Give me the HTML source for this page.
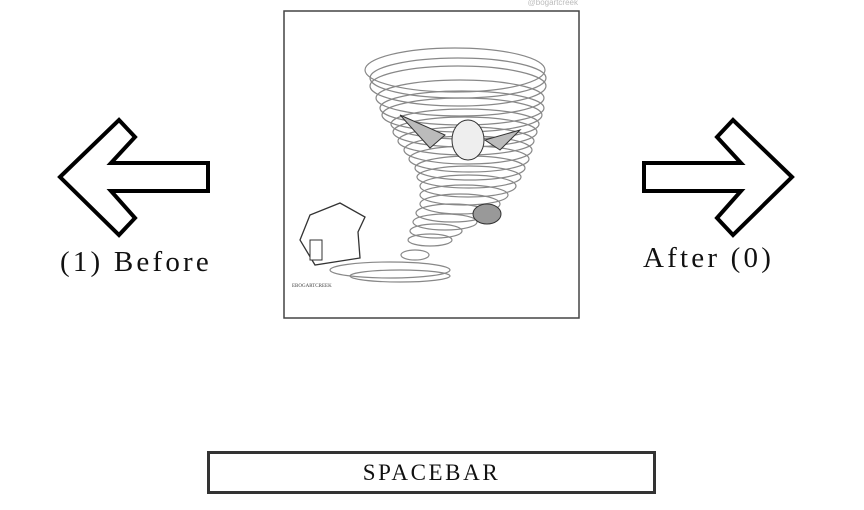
<!DOCTYPE html>
<html><head><meta charset="utf-8"><style>
body{margin:0;width:864px;height:510px;background:#fff;overflow:hidden;position:relative;font-family:"Liberation Serif",serif;}
.lbl{position:absolute;font-size:29px;letter-spacing:3.2px;color:#111;white-space:nowrap;}
</style></head><body>
<svg width="864" height="510" style="position:absolute;left:0;top:0">
<polygon points="60,177 119,120 135,137 111,163 208,163 208,191 111,191 135,218 119,235" fill="#fff" stroke="#000" stroke-width="4" stroke-linejoin="miter"/>
<polygon points="792,177 733,120 717,137 741,163 644,163 644,191 741,191 717,218 733,235" fill="#fff" stroke="#000" stroke-width="4"/>
<g>
<rect x="284" y="11" width="295" height="307" fill="#fff" stroke="#444" stroke-width="1.5"/>
<text x="578" y="5" font-size="8" fill="#bbb" text-anchor="end" font-family="Liberation Sans,sans-serif">@bogartcreek</text>
<g fill="none" stroke="#888" stroke-width="1.2">
<ellipse cx="455" cy="70" rx="90" ry="22"/><ellipse cx="458" cy="78" rx="88" ry="20"/><ellipse cx="458" cy="86" rx="88" ry="20"/>
<ellipse cx="460" cy="98" rx="84" ry="18"/><ellipse cx="462" cy="108" rx="82" ry="17"/><ellipse cx="462" cy="115" rx="80" ry="17"/>
<ellipse cx="465" cy="124" rx="74" ry="15"/><ellipse cx="465" cy="132" rx="72" ry="15"/><ellipse cx="466" cy="141" rx="68" ry="14"/>
<ellipse cx="468" cy="150" rx="64" ry="14"/><ellipse cx="469" cy="159" rx="60" ry="13"/>
<ellipse cx="470" cy="168" rx="55" ry="12"/><ellipse cx="469" cy="177" rx="52" ry="11"/><ellipse cx="468" cy="186" rx="48" ry="11"/>
<ellipse cx="464" cy="195" rx="44" ry="10"/><ellipse cx="460" cy="204" rx="40" ry="10"/><ellipse cx="452" cy="213" rx="36" ry="9"/><ellipse cx="445" cy="222" rx="32" ry="8"/>
<ellipse cx="436" cy="231" rx="26" ry="7"/><ellipse cx="430" cy="240" rx="22" ry="6"/><ellipse cx="415" cy="255" rx="14" ry="5"/>
<ellipse cx="390" cy="270" rx="60" ry="8"/><ellipse cx="400" cy="276" rx="50" ry="6"/>
</g>
<g fill="#bbb" stroke="#333" stroke-width="1">
<path d="M400 115 L445 135 L430 148 Z"/><path d="M485 140 L520 130 L500 150 Z"/>
<ellipse cx="468" cy="140" rx="16" ry="20" fill="#eee"/>
</g>
<ellipse cx="487" cy="214" rx="14" ry="10" fill="#999" stroke="#333"/>
<path d="M300 240 L310 215 L340 203 L365 217 L358 232 L360 258 L315 265 Z" fill="#fff" stroke="#333" stroke-width="1.3"/>
<rect x="310" y="240" width="12" height="20" fill="#fff" stroke="#333"/>
<text x="292" y="287" font-size="5" fill="#444">EBOGARTCREEK</text>
</g>
</svg>
<div class="lbl" style="left:60px;top:246px;">(1) Before</div>
<div class="lbl" style="left:643px;top:242px;">After (0)</div>
<div style="position:absolute;left:207px;top:451px;width:443px;height:37px;border:3px solid #333;text-align:center;line-height:37px;font-size:23px;letter-spacing:2.6px;color:#111;">SPACEBAR</div>
</body></html>
